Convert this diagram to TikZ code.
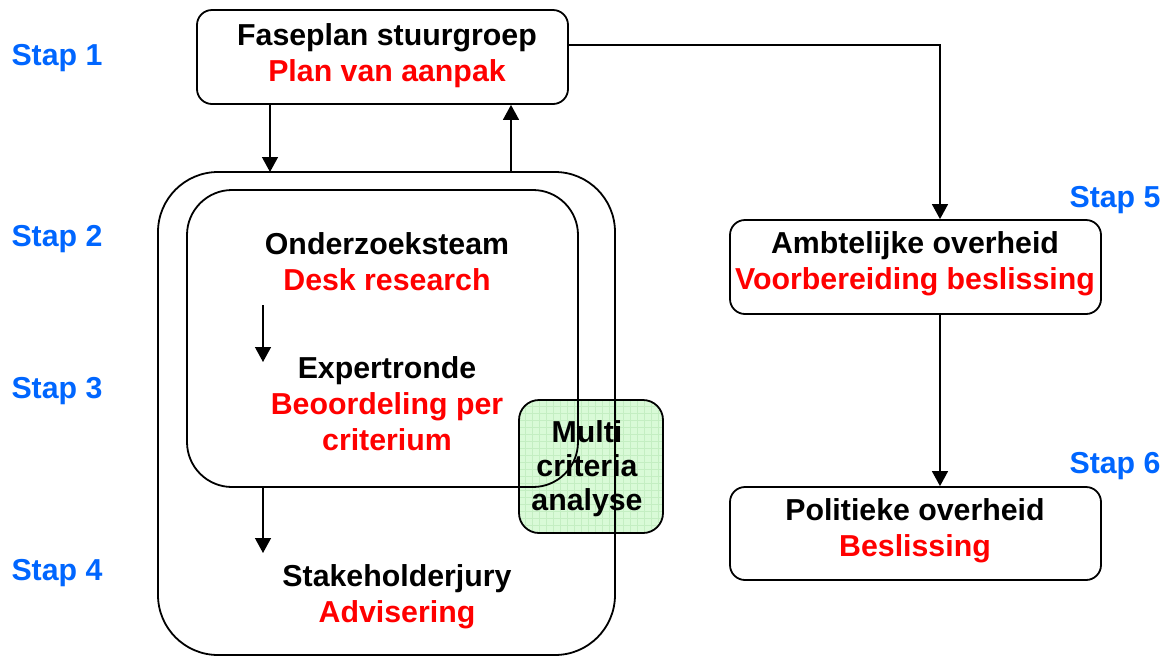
\documentclass[tikz,border=0pt]{standalone}
\usepackage{fontspec}
\setmainfont{Liberation Sans}
\usetikzlibrary{arrows.meta}
\definecolor{stapblue}{RGB}{0,102,255}
\definecolor{mcagreen}{RGB}{217,250,215}
\definecolor{mcagrid}{RGB}{196,238,194}
\begin{document}
\begin{tikzpicture}[x=1pt,y=-1pt,
  font=\fontsize{30.3}{36}\selectfont\bfseries,
  boxstyle/.style={draw,line width=1.8pt,rounded corners=15pt,inner sep=0pt},
  stap/.style={text=stapblue,inner sep=0pt},
  txt/.style={align=center,inner sep=0pt},
  arr/.style={line width=1.4pt,-{Triangle[width=16pt,length=15pt]}},
  conn/.style={line width=1.4pt}]
\useasboundingbox (0,0) rectangle (1171,657);

% Multi criteria analyse box (background)
\node[fill=mcagreen,rounded corners=20pt,minimum width=144pt,minimum height=133pt,inner sep=0pt] (mca) at (591,466.5) {};
\begin{scope}
\clip[rounded corners=20pt] (520,401) rectangle (662,532);
\draw[mcagrid,line width=0.4pt,step=7pt] (519,400) grid (663,533);
\end{scope}
\draw[line width=1.8pt,rounded corners=20pt] (519,400) rectangle (663,533);

% outer and inner boxes
\draw[line width=1.8pt,rounded corners=60pt] (158,172) rectangle (615,655);
\coordinate (outerTL) at (158,172);
\node[minimum width=457pt,minimum height=483pt,inner sep=0pt] (outer) at (386.5,413.5) {};
\draw[line width=1.8pt,rounded corners=45pt] (187,190) rectangle (578,487);
\node[minimum width=391pt,minimum height=297pt,inner sep=0pt] (inner) at (382.5,338.5) {};

% main boxes
\node[boxstyle,minimum width=371pt,minimum height=94pt] (fase) at (382.5,57) {};
\node[boxstyle,minimum width=371pt,minimum height=94pt] (amb) at (915.5,267) {};
\node[boxstyle,minimum width=371pt,minimum height=93pt] (pol) at (915.5,533.5) {};
\node[txt] (fasetext) at (387,55.5) {Faseplan stuurgroep\\\textcolor{red}{Plan van aanpak}};
\node[txt] (ambtext) at (915,263.5) {Ambtelijke overheid\\\textcolor{red}{Voorbereiding beslissing}};
\node[txt] (poltext) at (915,530.5) {Politieke overheid\\\textcolor{red}{Beslissing}};

% texts inside the big boxes
\node[txt] (ond) at (387,262) {Onderzoeksteam\\\textcolor{red}{Desk research}};
\node[txt] (exp) at (387,404) {Expertronde\\\textcolor{red}{Beoordeling per}\\\textcolor{red}{criterium}};
\node[txt] (stk) at (397,597) {Stakeholderjury\\\textcolor{red}{Advisering}};
\node[txt,font=\fontsize{30.3}{34}\selectfont\bfseries] (mcatext) at (587,469) {Multi\\criteria\\analyse};

% stap labels
\node[stap] (s1) at (57,58) {Stap 1};
\node[stap] (s2) at (57,239) {Stap 2};
\node[stap] (s3) at (57,391) {Stap 3};
\node[stap] (s4) at (57,573) {Stap 4};
\node[stap] (s5) at (1115,200) {Stap 5};
\node[stap] (s6) at (1115,466) {Stap 6};

% connectors
\coordinate (xa) at (270,0);
\coordinate (xb) at (511,0);
\coordinate (xc) at (940,0);
\coordinate (xd) at (263,0);
\coordinate (e1) at (263,305);
\coordinate (e2) at (263,362);
\draw[arr] (fase.south -| xa) -- (outerTL -| xa);
\draw[arr] (outerTL -| xb) -- (fase.south -| xb);
\draw[arr] (fase.east |- 0,45) -- (xc |- 0,45) -- (amb.north -| xc);
\draw[arr] (amb.south -| xc) -- (pol.north -| xc);
\draw[arr] (e1) -- (e2);
\draw[arr] (inner.south -| xd) -- (263,553);
\end{tikzpicture}
\end{document}
